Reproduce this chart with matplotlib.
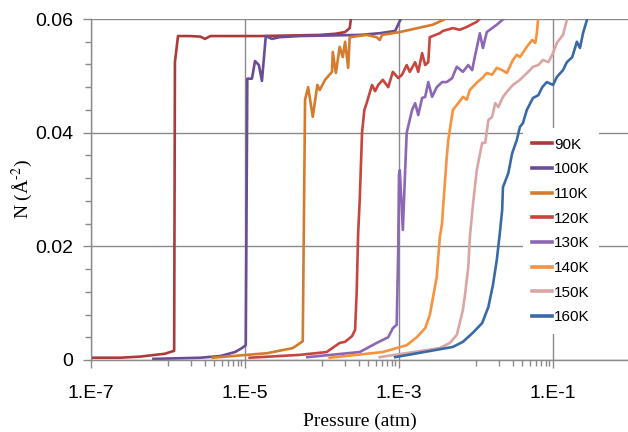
import numpy as np
import matplotlib
matplotlib.use('Agg')
import matplotlib.pyplot as plt
from matplotlib.ticker import FixedLocator, FixedFormatter

# --- data: log10 of pressure (atm) and N (A^-2) ---
labels = ['90K', '100K', '110K', '120K', '130K', '140K', '150K', '160K']
colors = ['#AB3B3B', '#6A4C98', '#D57B2D', '#C6463F', '#8B67B6', '#F7923E', '#D9A6A5', '#3A6AA6']

lgp_90 = [-7.00, -6.62, -6.36, -6.17, -6.04, -5.95, -5.92, -5.91, -5.87, -5.71, -5.58, -5.52, -5.45,
          -5.19, -4.81, -4.42, -4.03, -3.83, -3.70, -3.64, -3.62]
n_90 = [0.0004, 0.0004, 0.0006, 0.0009, 0.0011, 0.0015, 0.0016, 0.0524, 0.0570, 0.0570, 0.0569, 0.0565,
        0.0570, 0.0570, 0.0570, 0.0571, 0.0572, 0.0574, 0.0577, 0.0584, 0.0605]

lgp_100 = [-6.19, -5.58, -5.32, -5.13, -5.04, -4.99, -4.97, -4.91, -4.87, -4.82, -4.78, -4.73, -4.65,
           -4.55, -4.29, -3.90, -3.51, -3.25, -3.05, -2.96]
n_100 = [0.0002, 0.0004, 0.0007, 0.0014, 0.0021, 0.0026, 0.0495, 0.0495, 0.0526, 0.0519, 0.0491, 0.0570,
         0.0565, 0.0568, 0.0570, 0.0571, 0.0572, 0.0575, 0.0579, 0.0605]

lgp_110 = [-5.42, -4.71, -4.38, -4.26, -4.25, -4.22, -4.18, -4.12, -4.06, -4.03, -3.96, -3.87, -3.86,
           -3.82, -3.77, -3.73, -3.70, -3.66, -3.64, -3.42, -3.29, -3.25, -3.22, -2.99, -2.56, -2.43, -2.34]
n_110 = [0.0004, 0.0012, 0.0021, 0.0032, 0.0033, 0.0458, 0.0480, 0.0428, 0.0484, 0.0475, 0.0493, 0.0507,
         0.0542, 0.0505, 0.0551, 0.0533, 0.0560, 0.0514, 0.0568, 0.0572, 0.0568, 0.0563, 0.0572, 0.0577,
         0.0590, 0.0598, 0.0605]

lgp_120 = [-4.94, -4.29, -3.94, -3.77, -3.70, -3.61, -3.57, -3.55, -3.53, -3.51, -3.48, -3.45, -3.42,
           -3.35, -3.31, -3.27, -3.21, -3.14, -3.08, -3.01, -2.96, -2.90, -2.86, -2.79, -2.75, -2.70,
           -2.66, -2.62, -2.60, -2.47, -2.43, -2.30, -2.21, -2.12, -1.99, -1.92]
n_120 = [0.0004, 0.0009, 0.0014, 0.0030, 0.0032, 0.0042, 0.0053, 0.0118, 0.0224, 0.0282, 0.0400, 0.0440,
         0.0452, 0.0484, 0.0473, 0.0484, 0.0493, 0.0480, 0.0507, 0.0496, 0.0502, 0.0519, 0.0507, 0.0524,
         0.0507, 0.0540, 0.0519, 0.0524, 0.0568, 0.0575, 0.0579, 0.0584, 0.0581, 0.0586, 0.0595, 0.0605]

lgp_130 = [-4.19, -3.51, -3.29, -3.14, -3.08, -3.03, -3.01, -3.00, -2.99, -2.97, -2.95, -2.92, -2.90,
           -2.83, -2.79, -2.75, -2.70, -2.66, -2.62, -2.57, -2.51, -2.44, -2.38, -2.31, -2.25, -2.17,
           -2.10, -2.05, -2.01, -1.99, -1.95, -1.91, -1.86, -1.79, -1.73, -1.60]
n_130 = [0.0005, 0.0014, 0.0030, 0.0040, 0.0056, 0.0062, 0.0194, 0.0326, 0.0334, 0.0282, 0.0229, 0.0334,
         0.0400, 0.0440, 0.0452, 0.0431, 0.0461, 0.0463, 0.0489, 0.0463, 0.0480, 0.0489, 0.0489, 0.0496,
         0.0516, 0.0507, 0.0519, 0.0510, 0.0537, 0.0549, 0.0575, 0.0549, 0.0577, 0.0584, 0.0590, 0.0605]

lgp_140 = [-3.90, -3.21, -3.03, -2.90, -2.77, -2.66, -2.60, -2.56, -2.51, -2.49, -2.47, -2.44, -2.43,
           -2.38, -2.36, -2.30, -2.23, -2.17, -2.12, -2.08, -1.99, -1.92, -1.86, -1.79, -1.73, -1.66,
           -1.60, -1.52, -1.47, -1.43, -1.34, -1.27, -1.23, -1.21, -1.19]
n_140 = [0.0004, 0.0014, 0.0021, 0.0026, 0.0040, 0.0056, 0.0079, 0.0109, 0.0146, 0.0181, 0.0216, 0.0241,
         0.0264, 0.0357, 0.0387, 0.0440, 0.0452, 0.0463, 0.0458, 0.0475, 0.0488, 0.0496, 0.0505, 0.0502,
         0.0514, 0.0510, 0.0505, 0.0528, 0.0537, 0.0533, 0.0551, 0.0563, 0.0558, 0.0575, 0.0605]

lgp_150 = [-3.25, -2.47, -2.34, -2.25, -2.17, -2.14, -2.10, -2.08, -2.04, -1.99, -1.92, -1.88, -1.84,
           -1.79, -1.75, -1.71, -1.65, -1.58, -1.52, -1.43, -1.36, -1.30, -1.26, -1.19, -1.13, -1.06,
           -1.00, -0.95, -0.87, -0.82, -0.79]
n_150 = [0.0005, 0.0021, 0.0030, 0.0044, 0.0088, 0.0118, 0.0164, 0.0216, 0.0273, 0.0334, 0.0382, 0.0382,
         0.0422, 0.0428, 0.0452, 0.0445, 0.0463, 0.0475, 0.0484, 0.0493, 0.0502, 0.0510, 0.0516, 0.0519,
         0.0528, 0.0524, 0.0540, 0.0558, 0.0572, 0.0598, 0.0609]

lgp_160 = [-3.05, -2.30, -2.17, -2.04, -1.92, -1.84, -1.78, -1.73, -1.69, -1.66, -1.65, -1.58, -1.53,
           -1.47, -1.43, -1.39, -1.34, -1.26, -1.19, -1.14, -1.08, -1.00, -0.95, -0.87, -0.82, -0.75,
           -0.69, -0.65, -0.61, -0.56, -0.53]
n_160 = [0.0005, 0.0023, 0.0032, 0.0048, 0.0065, 0.0093, 0.0132, 0.0176, 0.0224, 0.0264, 0.0304, 0.0329,
         0.0364, 0.0387, 0.0410, 0.0417, 0.0440, 0.0461, 0.0466, 0.0480, 0.0489, 0.0484, 0.0498, 0.0510,
         0.0524, 0.0533, 0.0560, 0.0549, 0.0575, 0.0598, 0.0609]

series = [(lgp_90, n_90), (lgp_100, n_100), (lgp_110, n_110), (lgp_120, n_120),
          (lgp_130, n_130), (lgp_140, n_140), (lgp_150, n_150), (lgp_160, n_160)]

x_major = [1e-7, 1e-5, 1e-3, 1e-1]
x_major_labels = ['1.E-7', '1.E-5', '1.E-3', '1.E-1']

# --- figure ---
plt.rcParams['font.family'] = ['Liberation Sans', 'DejaVu Sans']
plt.rcParams['mathtext.fontset'] = 'stix'

fig = plt.figure(figsize=(6.28, 4.32), dpi=100)
ax = fig.add_axes([91 / 628, 72 / 432, 537 / 628, 341 / 432])

for (lg, n), lab, col in zip(series, labels, colors):
    ax.plot(10 ** np.array(lg), n, color=col, lw=1.9, label=lab, solid_joinstyle='round')

ax.set_xscale('log')
ax.set_xlim(1e-7, 10 ** (-7 + 537 / 77))
ax.set_ylim(0, 0.06)

ax.xaxis.set_major_locator(FixedLocator(x_major))
ax.xaxis.set_major_formatter(FixedFormatter(x_major_labels))
minors = [k * 10.0 ** e for e in (-6, -4, -2) for k in range(1, 10)]
ax.xaxis.set_minor_locator(FixedLocator(minors))
ax.xaxis.set_minor_formatter(FixedFormatter([''] * len(minors)))

ax.set_yticks([0, 0.02, 0.04, 0.06])
ax.set_yticklabels(['0', '0.02', '0.04', '0.06'])
ax.set_yticks(np.arange(0, 0.0601, 0.004), minor=True)

gray = '#8a8a8a'
ax.tick_params(axis='both', which='major', direction='out', length=6, width=1, color=gray,
               labelsize=14, labelcolor='black')
ax.tick_params(axis='both', which='minor', direction='out', length=4, width=1, color=gray)
ax.tick_params(axis='x', which='major', pad=12)
ax.tick_params(axis='y', which='major', pad=7)

ax.grid(True, which='major', color=gray, lw=1)
ax.set_axisbelow(True)
for s in ['top', 'right']:
    ax.spines[s].set_visible(False)
for s in ['left', 'bottom']:
    ax.spines[s].set_color(gray)
    ax.spines[s].set_linewidth(1)

ax.set_xlabel('Pressure (atm)', family=['Liberation Serif'], fontsize=14, labelpad=8)
ax.set_ylabel(r'N (Å$^{\text{-2}}$)', family=['Liberation Serif'], fontsize=14, labelpad=0)

leg = ax.legend(loc='center', bbox_to_anchor=(561 / 628, 1 - 231 / 432), bbox_transform=fig.transFigure,
                fontsize=11, frameon=True, framealpha=1, edgecolor='none', facecolor='white',
                handlelength=1.3, handletextpad=0.1, labelspacing=0.70, borderpad=0.6, fancybox=False)
for h in leg.get_lines():
    h.set_linewidth(2.6)

fig.savefig('out.png', dpi=100)
